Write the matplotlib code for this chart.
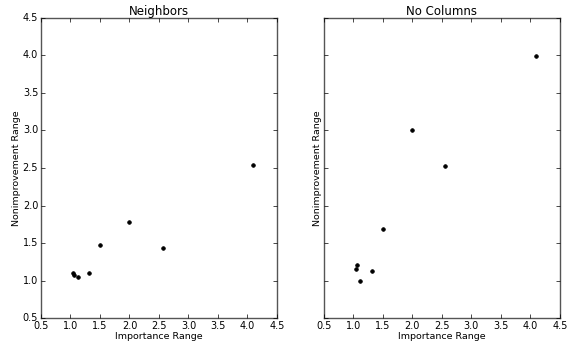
import matplotlib
matplotlib.use("Agg")
import matplotlib.pyplot as plt

# importance range shared by both panels
importance = [1.05, 1.06, 1.12, 1.31, 1.50, 2.00, 2.56, 4.09]
# nonimprovement range per setting
neighbors = [1.10, 1.08, 1.05, 1.10, 1.48, 1.78, 1.44, 2.54]
no_columns = [1.15, 1.21, 0.99, 1.13, 1.69, 3.00, 2.53, 3.99]

titles = ["Neighbors", "No Columns"]
ticks = [0.5, 1.0, 1.5, 2.0, 2.5, 3.0, 3.5, 4.0, 4.5]

plt.style.use("classic")
fig = plt.figure(figsize=(5.67, 3.49), dpi=100)
ax1 = fig.add_axes([0.0723, 0.088, 0.4162, 0.861])
ax2 = fig.add_axes([0.571, 0.088, 0.4167, 0.861], sharey=ax1)

for ax, ys, title in zip([ax1, ax2], [neighbors, no_columns], titles):
    ax.scatter(importance, ys, s=7, c="k", edgecolors="k", linewidths=0.5)
    ax.set_xlim(0.5, 4.5)
    ax.set_ylim(0.5, 4.5)
    ax.set_xticks(ticks)
    ax.set_yticks(ticks)
    ax.tick_params(labelsize=7, length=3, pad=2)
    ax.set_title(title, fontsize=8.5, pad=2)
    ax.set_xlabel("Importance Range", fontsize=6.8, labelpad=1)
    ax.set_ylabel("Nonimprovement Range", fontsize=6.8, labelpad=1)
    for s in ax.spines.values():
        s.set_color("#555555")

ax2.tick_params(labelleft=False)

fig.savefig("out.png", dpi=100)
